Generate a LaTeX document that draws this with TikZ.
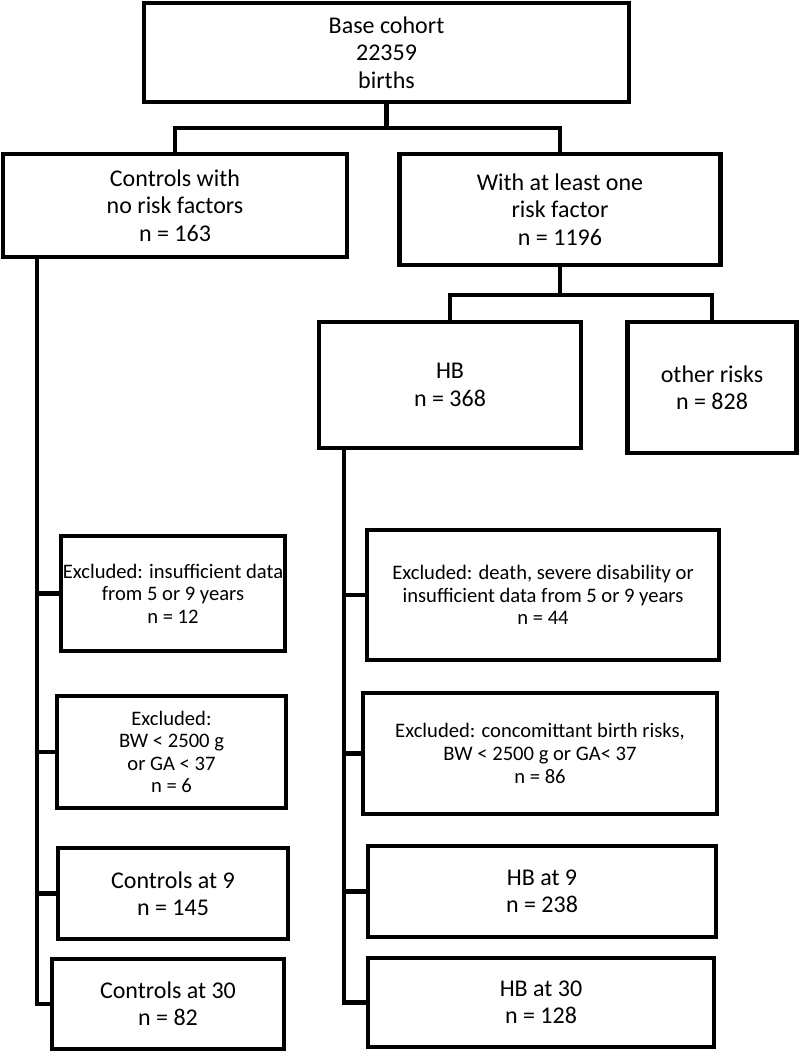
\documentclass[tikz,border=0pt]{standalone}
\usepackage{fontspec}
\setmainfont{Carlito}
\usepackage{tkz-euclide}
\usetikzlibrary{calc}

\tikzset{
  box/.style={draw, line width=2.2pt, align=center, inner sep=0pt,
    font=\fontsize{12}{13.7}\selectfont},
  small/.style={box, font=\fontsize{10.3}{11.3}\selectfont},
  boxsize/.style 2 args={minimum width=#1*0.5pt, minimum height=#2*0.5pt},
  conn/.style={line width=2.2pt, line cap=rect}
}

\begin{document}
\begin{tikzpicture}[x=0.5pt, y=-0.5pt]
    \useasboundingbox (0,0) rectangle (799,1053);
    \node[box, boxsize={485}{99}] (base) at (386.5,52.5) {Base cohort\\22359\\births};
    \node[box, boxsize={344}{103}] (ctrl) at (175,205.5) {Controls with\\no risk factors\\n = 163};
    \node[box, boxsize={321}{111}] (risk) at (560,209.5) {With at least one\\risk factor\\n = 1196};
    \node[box, boxsize={262}{126}] (hb) at (450,385) {HB\\n = 368};
    \node[box, boxsize={169}{131}] (other) at (712,387.5) {other risks\\n = 828};
    % left branch
    \node[small, boxsize={224}{115}] (exL) at (173,593.5) {Excluded: insufficient data\\from 5 or 9 years\\n = 12};
    \node[small, boxsize={229}{112}] (bwL) at (171.5,752) {Excluded:\\BW < 2500 g\\or GA < 37\\n = 6};
    \node[box, boxsize={230}{91}] (c_9) at (173,893.5) {Controls at 9\\n = 145};
    \node[box, boxsize={232}{90}] (c_30) at (168,1004) {Controls at 30\\n = 82};
    % right branch
    \node[small, boxsize={352}{130}] (exR) at (543,595) {Excluded: death, severe disability or\\insufficient data from 5 or 9 years\\n = 44};
    \node[small, boxsize={354}{121}] (bwR) at (540,753.5) {Excluded: concomittant birth risks,\\BW < 2500 g or GA< 37\\n = 86};
    \node[box, boxsize={348}{91}] (hb_9) at (542,891.5) {HB at 9\\n = 238};
    \node[box, boxsize={346}{89}] (hb_30) at (541,1002.5) {HB at 30\\n = 128};
    \tkzDefPoint(386.5,128){j_1}
    \tkzDefPoint(175,128){j_2}
    \tkzDefPoint(560,128){j_3}
    \tkzDefPoint(560,295){j_4}
    \tkzDefPoint(450,295){j_5}
    \tkzDefPoint(712,295){j_6}
    \tkzDefPoint(37,257){l_1}
    \tkzDefPoint(344,448){r_1}
    \tkzDrawSegments[conn](base.south,j_1 j_2,j_3 j_2,ctrl.north j_3,risk.north risk.south,j_4 j_5,j_6 j_5,hb.north j_6,other.north)
    \draw[conn] (l_1) -- (l_1 |- c_30);
    \draw[conn] (r_1) -- (r_1 |- hb_30);
    \foreach \b in {exL,bwL,c_9,c_30} \draw[conn] (l_1 |- \b) -- (\b);
    \foreach \b in {exR,bwR,hb_9,hb_30} \draw[conn] (r_1 |- \b) -- (\b);
\end{tikzpicture}
\end{document}
